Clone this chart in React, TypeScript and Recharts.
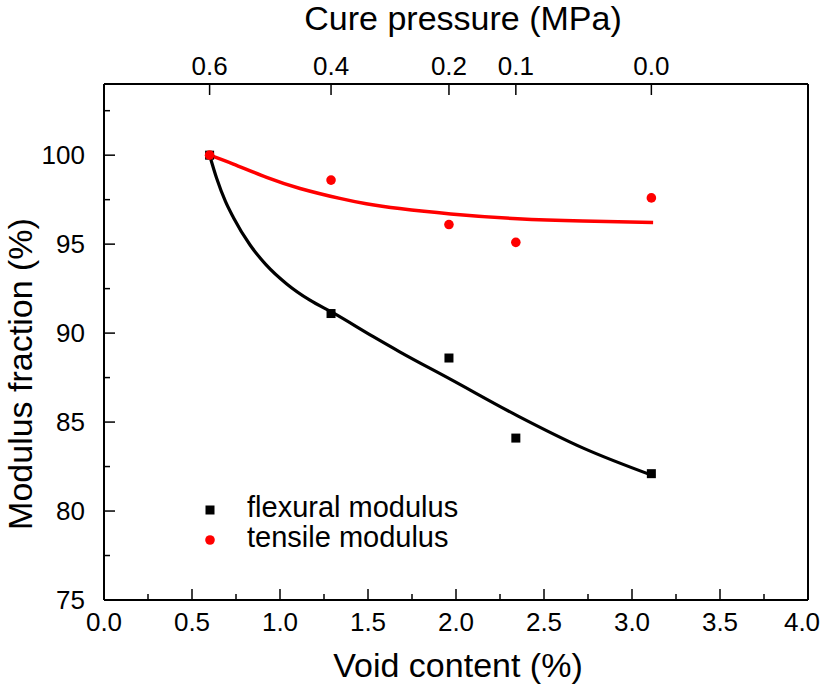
import { ComposedChart, Line, Scatter, XAxis, YAxis, Legend, ReferenceLine, Label } from "recharts";

// measured points (void content %, modulus fraction %)
const voidContent = [0.6, 1.29, 1.96, 2.34, 3.11];
const flexuralModulus = [100.0, 91.1, 88.6, 84.1, 82.1];
const tensileModulus = [100.0, 98.6, 96.1, 95.1, 97.6];

// fitted curves
const flexFitX = [0.6, 0.64, 0.69, 0.735, 0.83, 0.92, 1.04, 1.17, 1.3, 1.53, 1.68, 1.97, 2.35, 2.72, 3.13];
const flexFitY = [100.0, 98.7, 97.4, 96.5, 94.95, 93.85, 92.75, 91.85, 91.15, 89.8, 88.95, 87.4, 85.35, 83.55, 81.95];
const tensFitX = [0.6, 0.735, 0.924, 1.114, 1.34, 1.49, 1.68, 1.97, 2.35, 2.72, 3.12];
const tensFitY = [100.0, 99.5, 98.75, 98.13, 97.57, 97.27, 97.0, 96.7, 96.43, 96.3, 96.22];

// top axis: cure pressure placed at matching void content
const pressureTickPos = [0.6, 1.29, 1.96, 2.34, 3.11];
const pressureLabels = ["0.6", "0.4", "0.2", "0.1", "0.0"];

const xMajor = [0, 0.5, 1, 1.5, 2, 2.5, 3, 3.5, 4];
const xMinor = [0.25, 0.75, 1.25, 1.75, 2.25, 2.75, 3.25, 3.75];
const yMajor = [75, 80, 85, 90, 95, 100];
const yMinor = [77.5, 82.5, 87.5, 92.5, 97.5, 102.5];

const flexPoints = voidContent.map((x, i) => ({ x, y: flexuralModulus[i] }));
const tensPoints = voidContent.map((x, i) => ({ x, y: tensileModulus[i] }));
const flexFit = flexFitX.map((x, i) => ({ x, y: flexFitY[i] }));
const tensFit = tensFitX.map((x, i) => ({ x, y: tensFitY[i] }));

const FONT = "'Liberation Sans', Arial, sans-serif";
const TICK_FONT = 26;

function BottomTick({ x, y, payload }: any) {
  const major = xMajor.includes(payload.value);
  return (
    <g>
      <line x1={x} y1={y} x2={x} y2={y - (major ? 11 : 6)} stroke="#000" strokeWidth={1.5} />
      {major && (
        <text x={payload.value === 4 ? x - 6 : x} y={y + 31} textAnchor="middle" fontFamily={FONT} fontSize={TICK_FONT} fill="#000">
          {payload.value.toFixed(1)}
        </text>
      )}
    </g>
  );
}

function TopTick({ x, y, payload }: any) {
  const i = pressureTickPos.indexOf(payload.value);
  return (
    <g>
      <line x1={x} y1={y} x2={x} y2={y + 11} stroke="#000" strokeWidth={1.5} />
      <text x={x} y={y - 9} textAnchor="middle" fontFamily={FONT} fontSize={TICK_FONT} fill="#000">
        {pressureLabels[i]}
      </text>
    </g>
  );
}

function LeftTick({ x, y, payload }: any) {
  const major = yMajor.includes(payload.value);
  return (
    <g>
      <line x1={x} y1={y} x2={x + (major ? 11 : 6)} y2={y} stroke="#000" strokeWidth={1.5} />
      {major && (
        <text x={x - 19} y={y} dy="0.35em" textAnchor="end" fontFamily={FONT} fontSize={TICK_FONT} fill="#000">
          {payload.value}
        </text>
      )}
    </g>
  );
}

const SquareDot = ({ cx, cy }: any) => <rect x={cx - 4.5} y={cy - 4.5} width={9} height={9} fill="#000" />;
const RoundDot = ({ cx, cy }: any) => <circle cx={cx} cy={cy} r={4.8} fill="#ff0000" />;

function LegendBox() {
  return (
    <svg width={300} height={70}>
      <rect x={15.5} y={17.5} width={9} height={9} fill="#000" />
      <text x={57} y={29} fontFamily={FONT} fontSize={29} fill="#000">flexural modulus</text>
      <circle cx={20} cy={52} r={4.8} fill="#ff0000" />
      <text x={57} y={59} fontFamily={FONT} fontSize={29} fill="#000">tensile modulus</text>
    </svg>
  );
}

export default function App() {
  return (
    <div style={{ position: "absolute", left: 0, top: 0, background: "#fff" }}>
      <ComposedChart width={821} height={691} margin={{ top: 0, right: 13, bottom: 0, left: 0 }}>
        <XAxis
          xAxisId="bottom"
          dataKey="x"
          type="number"
          domain={[0, 4]}
          ticks={[...xMajor, ...xMinor]}
          interval={0}
          height={91}
          tickSize={0}
          tickMargin={0}
          tick={<BottomTick />}
          axisLine={{ stroke: "#000", strokeWidth: 2 }}
        >
          <Label
            content={({ viewBox }: any) => {
              const vb = viewBox || { x: 104, y: 600, width: 704, height: 91 };
              return (
                <text x={vb.x + vb.width / 2 + 2} y={vb.y + 77} textAnchor="middle" fontFamily={FONT} fontSize={34} fill="#000">
                  Void content (%)
                </text>
              );
            }}
          />
        </XAxis>
        <XAxis
          xAxisId="top"
          dataKey="x"
          orientation="top"
          type="number"
          domain={[0, 4]}
          ticks={pressureTickPos}
          interval={0}
          height={84}
          tickSize={0}
          tickMargin={0}
          tick={<TopTick />}
          axisLine={{ stroke: "#000", strokeWidth: 2 }}
        >
          <Label
            content={({ viewBox }: any) => {
              const vb = viewBox || { x: 104, y: 0, width: 704, height: 84 };
              return (
                <text x={vb.x + vb.width / 2 + 7} y={vb.y + 30} textAnchor="middle" fontFamily={FONT} fontSize={34} fill="#000">
                  Cure pressure (MPa)
                </text>
              );
            }}
          />
        </XAxis>
        <YAxis
          yAxisId="left"
          type="number"
          domain={[75, 104]}
          ticks={[...yMajor, ...yMinor]}
          interval={0}
          width={104}
          tickSize={0}
          tickMargin={0}
          tick={<LeftTick />}
          axisLine={{ stroke: "#000", strokeWidth: 2 }}
        >
          <Label
            content={({ viewBox }: any) => {
              const vb = viewBox || { x: 0, y: 84, width: 104, height: 516 };
              const cy = vb.y + vb.height / 2 + 32;
              return (
                <text
                  transform={`translate(${vb.x + 20},${cy}) rotate(-90)`}
                  textAnchor="middle"
                  dy="0.35em"
                  fontFamily={FONT}
                  fontSize={34}
                  fill="#000"
                >
                  Modulus fraction (%)
                </text>
              );
            }}
          />
        </YAxis>
        <ReferenceLine xAxisId="bottom" yAxisId="left" x={4} stroke="#000" strokeWidth={2} />

        {/* keeps the pressure axis on the same scale as the void content axis */}
        <Line
          xAxisId="top"
          yAxisId="left"
          data={tensPoints}
          dataKey="y"
          stroke="none"
          dot={false}
          activeDot={false}
          legendType="none"
          isAnimationActive={false}
        />
        <Line
          xAxisId="bottom"
          yAxisId="left"
          data={flexFit}
          dataKey="y"
          type="monotone"
          stroke="#000"
          strokeWidth={3.2}
          dot={false}
          activeDot={false}
          isAnimationActive={false}
        />
        <Line
          xAxisId="bottom"
          yAxisId="left"
          data={tensFit}
          dataKey="y"
          type="natural"
          stroke="#ff0000"
          strokeWidth={3.5}
          dot={false}
          activeDot={false}
          isAnimationActive={false}
        />
        <Scatter
          xAxisId="bottom"
          yAxisId="left"
          name="flexural modulus"
          data={flexPoints}
          dataKey="y"
          shape={<SquareDot />}
          isAnimationActive={false}
        />
        <Scatter
          xAxisId="bottom"
          yAxisId="left"
          name="tensile modulus"
          data={tensPoints}
          dataKey="y"
          shape={<RoundDot />}
          isAnimationActive={false}
        />
        <Legend
          layout="vertical"
          align="center"
          verticalAlign="middle"
          content={<LegendBox />}
          wrapperStyle={{ left: 190, top: 488, width: 300, height: 70 }}
        />
      </ComposedChart>
    </div>
  );
}
